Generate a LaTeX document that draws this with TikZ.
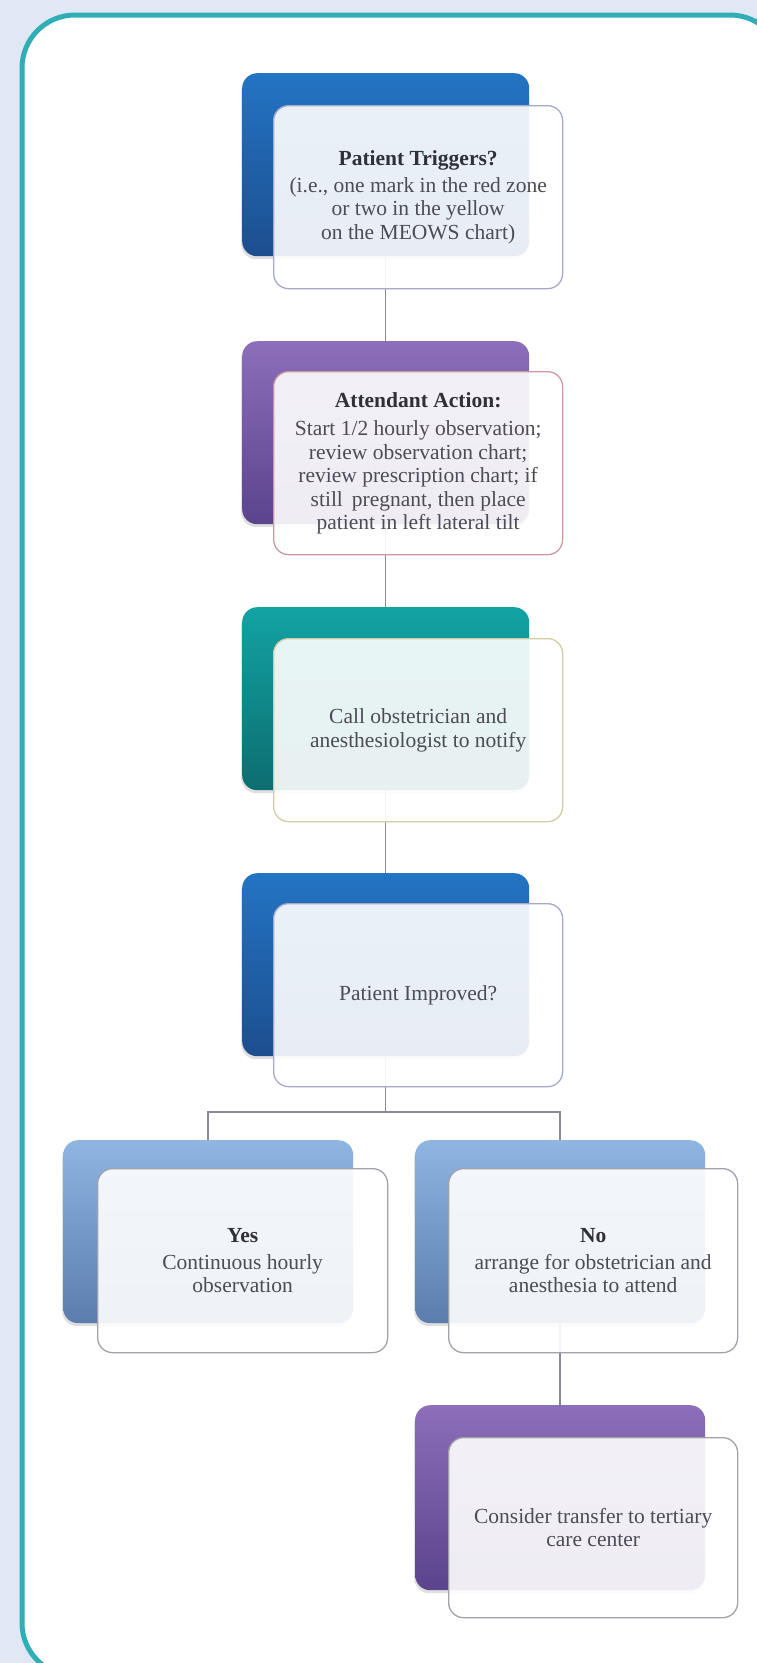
\documentclass[tikz,border=0pt]{standalone}
\usepackage{fontspec}
\setmainfont{Liberation Serif}
\usetikzlibrary{shadows}
\definecolor{bgblue}{HTML}{E1E8F5}
\definecolor{frameteal}{HTML}{2FAEB6}
\definecolor{txtgray}{HTML}{4C4C56}
\definecolor{ttlgray}{HTML}{303038}
\definecolor{linegray}{HTML}{8C8794}
\definecolor{blueT}{HTML}{2374C4}\definecolor{blueB}{HTML}{1C4E8E}
\definecolor{purT}{HTML}{8C6EB9}\definecolor{purB}{HTML}{5B438E}
\definecolor{tealT}{HTML}{12A3A3}\definecolor{tealB}{HTML}{0D6D70}
\definecolor{ltT}{HTML}{8FB5E3}\definecolor{ltB}{HTML}{5A7DAE}
\definecolor{bdBlue}{HTML}{A7A9CB}
\definecolor{bdRed}{HTML}{CB9AA0}
\definecolor{bdTan}{HTML}{D2CDA2}
\definecolor{bdGray}{HTML}{A2A2AA}
\pgfdeclarelayer{frame}
\pgfdeclarelayer{lines}
\pgfsetlayers{frame,lines,main}
\tikzset{
  backbox/.style 2 args={rectangle, rounded corners=15pt, anchor=north west, inner sep=0pt,
    minimum width=287pt, minimum height=183pt, top color=#1, bottom color=#2,
    drop shadow={shadow xshift=-1pt, shadow yshift=-3pt, opacity=0.25}},
  frontbox/.style={rectangle, rounded corners=15pt, anchor=north west, inner sep=0pt,
    minimum width=289pt, minimum height=183pt, draw=#1, line width=1.3pt,
    fill=white, fill opacity=0.9, text opacity=1, align=center,
    font=\fontsize{21.5}{23.5}\selectfont, text=txtgray},
  conn/.style={draw=linegray, line width=1.5pt},
  ttl/.style={}
}
\newcommand{\ttlx}[1]{{\color{ttlgray}\bfseries #1}}
\begin{document}
\begin{tikzpicture}[x=1pt,y=-1pt]
\useasboundingbox (0,0) rectangle (757,1663);
\begin{pgfonlayer}{frame}
\clip (0,0) rectangle (757,1663);
\fill[bgblue] (0,0) rectangle (757,1663);
\draw[frameteal, line width=5pt, fill=white, rounded corners=53pt] (22,15) rectangle (783,1676);
\end{pgfonlayer}

% back boxes
\node[backbox={blueT}{blueB}] (b1) at (242,73) {};
\node[backbox={purT}{purB}] (b2) at (242,341) {};
\node[backbox={tealT}{tealB}] (b3) at (242,607) {};
\node[backbox={blueT}{blueB}] (b4) at (242,873) {};
\node[backbox={ltT}{ltB}, minimum width=290pt] (b5) at (63,1140) {};
\node[backbox={ltT}{ltB}, minimum width=290pt] (b6) at (415,1140) {};
\node[backbox={purT}{purB}, minimum width=290pt, minimum height=185pt] (b7) at (415,1405) {};

% front boxes
\node[frontbox=bdBlue] (f1) at (273,105) {\ttlx{Patient Triggers?}\\[3pt](i.e., one mark in the red zone\\or two in the yellow\\on the MEOWS chart)};
\node[frontbox=bdRed] (f2) at (273,371) {\ttlx{Attendant Action:}\\[5pt]Start 1/2 hourly observation;\\review observation chart;\\review prescription chart; if\\still\, pregnant, then place\\patient in left lateral tilt};
\node[frontbox=bdTan] (f3) at (273,638) {Call obstetrician and\\anesthesiologist to notify};
\node[frontbox=bdBlue] (f4) at (273,903) {Patient Improved?};
\node[frontbox=bdGray, minimum width=290pt, minimum height=184pt] (f5) at (97,1168) {\ttlx{Yes}\\[3pt]Continuous hourly\\observation};
\node[frontbox=bdGray, minimum height=184pt] (f6) at (448,1168) {\ttlx{No}\\[3pt]arrange for obstetrician and\\anesthesia to attend};
\node[frontbox=bdGray, minimum height=180pt] (f7) at (448,1437) {Consider transfer to tertiary\\care center};

% connectors
\begin{pgfonlayer}{lines}
\coordinate (j) at (387,1112);
\draw[conn] (b1.south) -- (b2.north);
\draw[conn] (b2.south) -- (b3.north);
\draw[conn] (b3.south) -- (b4.north);
\draw[conn] (b4.south) -- (b4.south |- j) -| (b5.north);
\draw[conn] (b4.south |- j) -| (b6.north);
\draw[conn] (b6.south) -- (b7.north);
\end{pgfonlayer}
\end{tikzpicture}
\end{document}
